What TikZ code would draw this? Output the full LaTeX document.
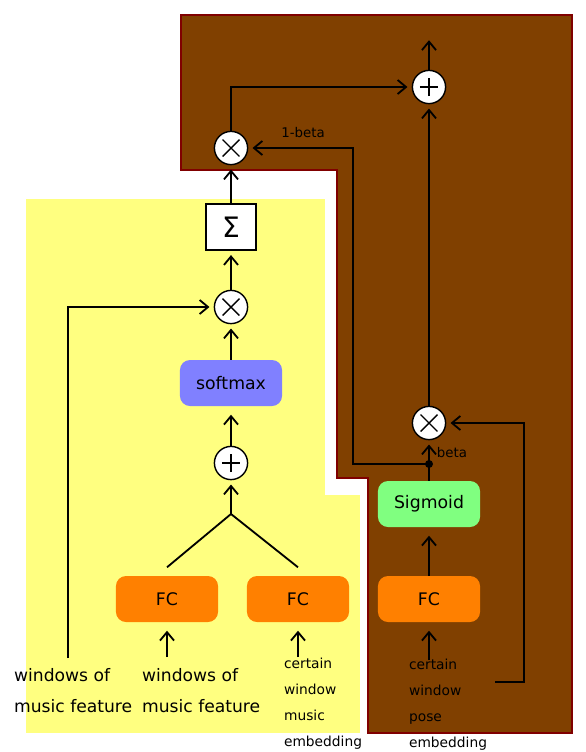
\documentclass[tikz,border=0pt]{standalone}
\usepackage{fontspec}
\setmainfont{DejaVu Sans}
\usetikzlibrary{arrows.meta}
\definecolor{brownbg}{RGB}{128,64,0}
\definecolor{brownline}{RGB}{128,0,0}
\definecolor{yellowbg}{RGB}{255,255,128}
\definecolor{fcorange}{RGB}{255,128,0}
\definecolor{softblue}{RGB}{128,128,255}
\definecolor{siggreen}{RGB}{128,255,128}

\begin{document}
\begin{tikzpicture}[x=0.025cm,y=-0.025cm,
  arr/.style={-{Straight Barb[length=6pt,width=10pt]},line width=1.3pt,shorten >=3pt},
  wire/.style={line width=1.3pt},
  opnode/.style={circle,draw,fill=white,line width=1pt,minimum size=0.83cm,inner sep=0pt},
  mulnode/.style={opnode,path picture={\draw[line width=1pt]
    ([shift={(-0.21cm,-0.21cm)}]path picture bounding box.center) -- ([shift={(0.21cm,0.21cm)}]path picture bounding box.center)
    ([shift={(-0.21cm,0.21cm)}]path picture bounding box.center) -- ([shift={(0.21cm,-0.21cm)}]path picture bounding box.center);}},
  addnode/.style={opnode,path picture={\draw[line width=1pt]
    ([xshift=-0.23cm]path picture bounding box.center) -- ([xshift=0.23cm]path picture bounding box.center)
    ([yshift=-0.23cm]path picture bounding box.center) -- ([yshift=0.23cm]path picture bounding box.center);}},
  block/.style={rectangle,rounded corners=0.25cm,minimum width=2.55cm,minimum height=1.15cm,font=\fontsize{12.3}{14}\selectfont},
  bigtext/.style={anchor=west,align=left,inner sep=2pt,font=\fontsize{12.2}{22}\selectfont},
  smalltext/.style={anchor=west,align=left,inner sep=2pt,font=\fontsize{9.8}{18.5}\selectfont}]
\useasboundingbox (0,0) rectangle (586,752);

% background regions
\filldraw[fill=brownbg,draw=brownline,line width=1.3pt] (181,15) -- (572,15) -- (572,733) -- (368,733) -- (368,478) -- (337,478) -- (337,170) -- (181,170) -- cycle;
\filldraw[fill=yellowbg,draw=white,line width=0.6pt] (25,198) -- (325,198) -- (325,494) -- (360,494) -- (360,733) -- (25,733) -- cycle;

% operators and blocks
\node[mulnode] (mulout) at (231,148) {};
\node[addnode] (addout) at (429,87) {};
\node[draw,fill=white,line width=1.2pt,minimum width=1.25cm,minimum height=1.15cm,inner sep=0pt] (sum) at (231,227) {\fontsize{20}{20}\selectfont Σ};
\node[mulnode] (mulatt) at (231,307) {};
\node[block,fill=softblue] (softmax) at (231,383) {softmax};
\node[addnode] (addatt) at (231,463) {};
\coordinate (split) at (231,514);
\node[block,fill=fcorange] (fcone) at (167,599) {FC};
\node[block,fill=fcorange] (fctwo) at (298,599) {FC};
\node[block,fill=fcorange] (fcpose) at (429,599) {FC};
\node[block,fill=siggreen] (sigmoid) at (429,504) {Sigmoid};
\node[mulnode] (mulgate) at (429,423) {};

% inputs
\node[bigtext] (featone) at (11,691) {windows of\\music feature};
\node[bigtext] (feattwo) at (139,691) {windows of\\music feature};
\node[smalltext] (musicemb) at (281,704) {certain\\window\\music\\embedding};
\node[smalltext] (poseemb) at (406,705) {certain\\window\\pose\\embedding};
\coordinate (inleft) at (68,658);
\coordinate (inmid) at (167,657);
\coordinate (inmusic) at (298,657);
\coordinate (inpose) at (429,660);
\coordinate (poseout) at (495,682);
\coordinate (posecorner) at (524,423);
\coordinate (tap) at (429,464);
\coordinate (turnlow) at (353,464);
\coordinate (turnhigh) at (353,148);
\coordinate (out) at (429,36);

% connectors
\draw[arr] (addout) -- (out);
\draw[arr] (mulout) |- (addout);
\draw[arr] (sum) -- (mulout);
\draw[arr] (mulatt) -- (sum);
\draw[arr] (softmax) -- (mulatt);
\draw[arr,shorten >=6pt] (addatt) -- (softmax);
\draw[arr] (split) -- (addatt);
\draw[wire] ([yshift=6pt]fcone.north) -- (split) -- ([yshift=6pt]fctwo.north);
\draw[arr] (inleft) |- (mulatt);
\draw[arr,shorten >=6pt] (inmid) -- (fcone);
\draw[arr,shorten >=6pt] (inmusic) -- (fctwo);
\draw[arr,shorten >=6pt] (inpose) -- (fcpose);
\draw[arr,shorten >=6pt] (fcpose) -- (sigmoid);
\draw[arr] (sigmoid) -- (mulgate);
\fill (tap) circle (4);
\draw[arr] (tap) -- (turnlow) -- (turnhigh) -- (mulout);
\draw[arr] (mulgate) -- (addout);
\draw[arr] (poseout) -| (posecorner) -- (mulgate);

% labels
\node[font=\fontsize{9.5}{11}\selectfont] (lbloneminus) at (303,133) {1-beta};
\node[font=\fontsize{9.5}{11}\selectfont] (lblbeta) at (452,453) {beta};

\end{tikzpicture}
\end{document}
